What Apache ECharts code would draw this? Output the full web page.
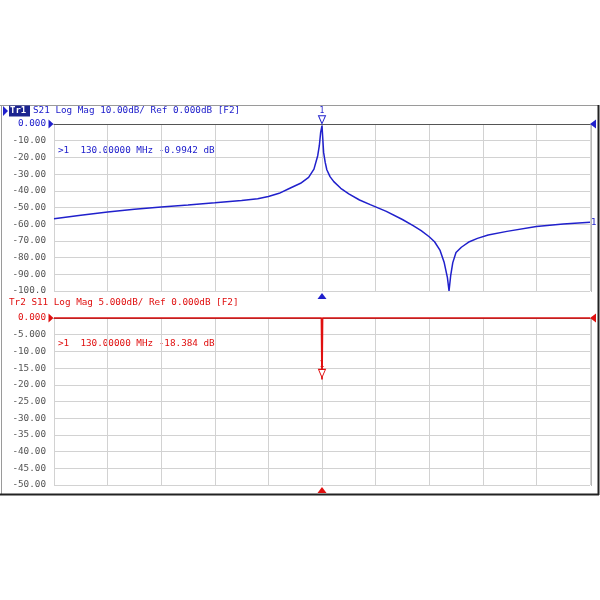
<!DOCTYPE html>
<html><head><meta charset="utf-8">
<script src="https://cdn.jsdelivr.net/npm/echarts@6/dist/echarts.min.js"></script>
<style>html,body{margin:0;padding:0;background:#fff}#c{width:600px;height:600px}</style>
</head><body><div id="c"></div>
<script>
// ---- data (MHz, dB) ----
const s21Freq = [80,85,90,95,100,105,110,115,118,120,122,124,126,127.5,128.5,129.2,129.5,129.75,130,130.15,130.3,130.6,130.9,131.5,132.2,133.5,135,137,139,142,145,147,148.5,150,151,152,152.8,153.4,153.7,154,154.4,155,156,157.5,159,161,164.5,170,175,180];
const s21Db   = [-56.7,-54.6,-52.7,-51.1,-49.7,-48.5,-47.2,-45.8,-44.7,-43.4,-41.5,-38.5,-35.5,-32,-27,-19,-13,-5,-0.9942,-9,-17,-23,-27.4,-31.5,-34.5,-38.5,-41.8,-45.5,-48.3,-52.3,-57.2,-60.8,-63.8,-67.5,-70.5,-75.5,-83,-92,-100,-91,-83,-77,-73.8,-70.5,-68.5,-66.5,-64.3,-61.4,-59.9,-58.8];
const s11Freq = [80,129.9,130,130.1,180];
const s11Db   = [0,0,-18.384,0,0];
const s21Ticks = ['0.000','-10.00','-20.00','-30.00','-40.00','-50.00','-60.00','-70.00','-80.00','-90.00','-100.0'];
const s11Ticks = ['0.000','-5.000','-10.00','-15.00','-20.00','-25.00','-30.00','-35.00','-40.00','-45.00','-50.00'];
const markerFreq = 130;
const markerS21 = -0.9942;
const markerS11 = -18.384;
const freqMin = 80, freqMax = 180, freqStep = 10;

const BLUE = '#2020cc', RED = '#e01010', GRAY = '#555', GRID = '#d2d2d2';
const FONT = 'DejaVu Sans Mono';
const zip = (a, b) => a.map((v, i) => [v, b[i]]);

function xAx(gi) {
  return {
    gridIndex: gi, type: 'value', min: freqMin, max: freqMax, interval: freqStep,
    position: 'top',
    axisLine: { show: true, onZero: false, lineStyle: { color: '#555', width: 1 } },
    axisTick: { show: false }, axisLabel: { show: false },
    splitLine: { show: true, lineStyle: { color: GRID, width: 1 } }
  };
}
function yAx(gi, min, step, ticks, col) {
  return {
    gridIndex: gi, type: 'value', min: min, max: 0, interval: step,
    axisLine: { show: true, lineStyle: { color: GRID } },
    axisTick: { show: false },
    splitLine: { show: true, lineStyle: { color: GRID, width: 1 } },
    axisLabel: {
      margin: 8, fontFamily: FONT, fontSize: 9.3, color: GRAY,
      formatter: v => { const i = Math.round(-v / step); return i === 0 ? '{z|' + ticks[i] + '}' : ticks[i]; },
      rich: { z: { color: col, fontFamily: FONT, fontSize: 9.3 } }
    }
  };
}
function refMarks(col, yMin, mVal) {
  return {
    silent: true, animation: false,
    data: [
      { coord: [markerFreq, mVal], symbol: 'triangle', symbolRotate: 180, symbolSize: [7, 8], symbolOffset: [0, -6],
        itemStyle: { color: '#fff', borderColor: col, borderWidth: 1 },
        label: { show: true, formatter: '1', position: 'top', distance: 0, color: col, fontFamily: FONT, fontSize: 8 } },
      { coord: [markerFreq, yMin], symbol: 'triangle', symbolSize: [9, 6], symbolOffset: [0, 5],
        itemStyle: { color: col }, label: { show: false } },
      { coord: [freqMax, 0], symbol: 'triangle', symbolRotate: 90, symbolSize: [9, 6], symbolOffset: [3, 0],
        itemStyle: { color: col }, label: { show: false } },
      { coord: [freqMin, 0], symbol: 'triangle', symbolRotate: -90, symbolSize: [9, 5], symbolOffset: [-3, 0],
        itemStyle: { color: col }, label: { show: false } }
    ]
  };
}
const txt = (x, y, s, col, extra) => Object.assign({
  type: 'text', left: x, top: y,
  style: { text: s, fill: col, font: '9.3px "' + FONT + '"' }
}, extra || {});

const chart = echarts.init(document.getElementById('c'), null, { renderer: 'canvas' });
chart.setOption({
  backgroundColor: '#fff',
  animation: false,
  grid: [
    { left: 54, top: 124, width: 536, height: 167 },
    { left: 54, top: 318, width: 536, height: 167 }
  ],
  xAxis: [xAx(0), xAx(1)],
  yAxis: [yAx(0, -100, 10, s21Ticks, BLUE), yAx(1, -50, 5, s11Ticks, RED)],
  series: [
    { type: 'line', xAxisIndex: 0, yAxisIndex: 0, data: zip(s21Freq, s21Db), showSymbol: false, clip: false,
      lineStyle: { color: BLUE, width: 1.5 }, itemStyle: { color: BLUE },
      endLabel: { show: true, formatter: '1', color: BLUE, fontFamily: FONT, fontSize: 9, distance: 1 },
      markPoint: refMarks(BLUE, -100, markerS21), z: 3 },
    { type: 'line', xAxisIndex: 1, yAxisIndex: 1, data: zip(s11Freq, s11Db), showSymbol: false, clip: false,
      lineStyle: { color: RED, width: 1.7 }, itemStyle: { color: RED },
      markPoint: refMarks(RED, -50, markerS11), z: 3 }
  ],
  graphic: [
    { type: 'line', shape: { x1: 0, y1: 105.5, x2: 598, y2: 105.5 }, style: { stroke: '#9a9a9a', lineWidth: 1 } },
    { type: 'line', shape: { x1: 1.5, y1: 105, x2: 1.5, y2: 494 }, style: { stroke: '#9a9a9a', lineWidth: 1 } },
    { type: 'line', shape: { x1: 0, y1: 494.5, x2: 599, y2: 494.5 }, style: { stroke: '#222', lineWidth: 2 } },
    { type: 'line', shape: { x1: 598.5, y1: 105, x2: 598.5, y2: 495 }, style: { stroke: '#222', lineWidth: 2 } },
    { type: 'line', shape: { x1: 591.5, y1: 124, x2: 591.5, y2: 292 }, style: { stroke: '#b8b8b8', lineWidth: 1 } },
    { type: 'line', shape: { x1: 591.5, y1: 318, x2: 591.5, y2: 486 }, style: { stroke: '#b8b8b8', lineWidth: 1 } },
    { type: 'polygon', shape: { points: [[3, 106], [8, 111], [3, 116]] }, style: { fill: BLUE } },
    { type: 'rect', shape: { x: 9, y: 105.5, width: 21, height: 11 }, style: { fill: '#1c2490' } },
    txt(10, 106, 'Tr1', '#fff', { style: { text: 'Tr1', fill: '#fff', font: 'bold 9px "' + FONT + '"' } }),
    txt(33, 106, 'S21 Log Mag 10.00dB/ Ref 0.000dB [F2]', BLUE),
    txt(58, 146, '>1  ' + markerFreq.toFixed(5) + ' MHz ' + markerS21.toFixed(4) + ' dB', BLUE),
    txt(9, 298.5, 'Tr2 S11 Log Mag 5.000dB/ Ref 0.000dB [F2]', RED),
    txt(58, 339.5, '>1  ' + markerFreq.toFixed(5) + ' MHz ' + markerS11.toFixed(3) + ' dB', RED)
  ]
});
</script></body></html>
